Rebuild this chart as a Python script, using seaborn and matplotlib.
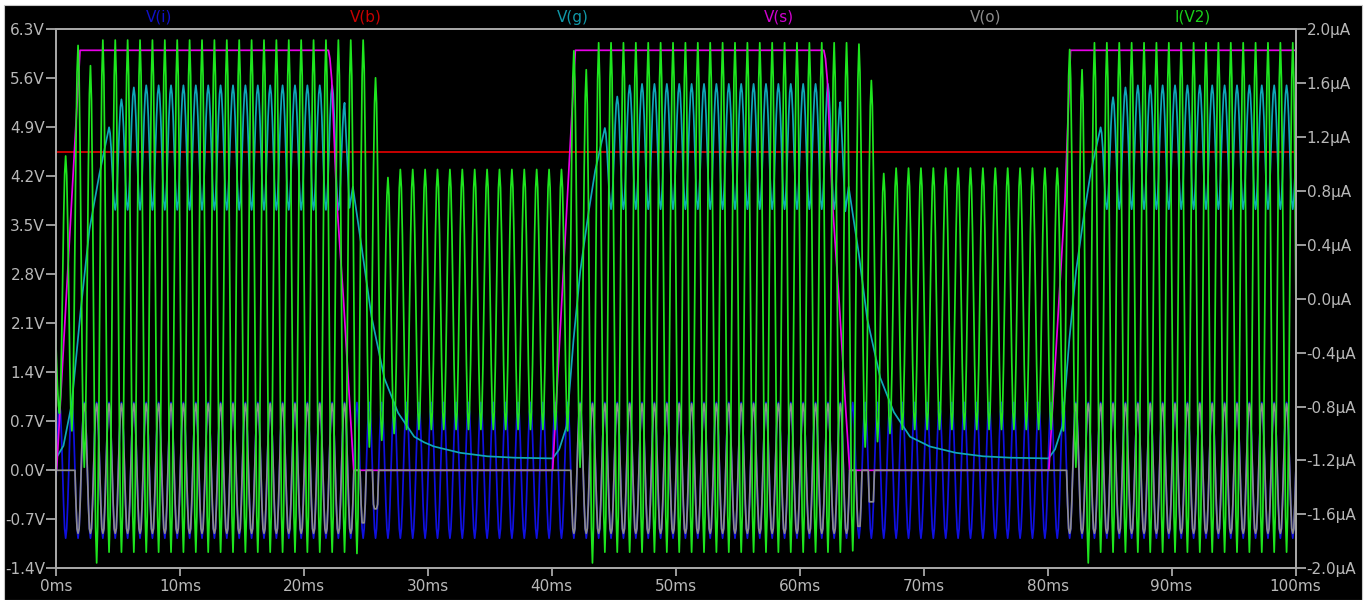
import numpy as np
import matplotlib
matplotlib.use("Agg")
import matplotlib.pyplot as plt
from matplotlib.patches import Rectangle
import seaborn as sns

sns.set_style("ticks")
plt.rcParams['font.family'] = ['DejaVu Sans']

# ---- data (time in ms) ----
trace_names = ['V(i)', 'V(b)', 'V(g)', 'V(s)', 'V(o)', 'I(V2)']
trace_colors = ['#1010e0', '#e00000', '#10a8b8', '#e800e8', '#8c8c8c', '#1ee61e']
label_colors = ['#1010c8', '#c80000', '#1098a8', '#d000d0', '#8c8c8c', '#18d018']

x_ticks = [0, 10, 20, 30, 40, 50, 60, 70, 80, 90, 100]
x_labels = ['0ms', '10ms', '20ms', '30ms', '40ms', '50ms', '60ms', '70ms', '80ms', '90ms', '100ms']
v_ticks = [-1.4, -0.7, 0.0, 0.7, 1.4, 2.1, 2.8, 3.5, 4.2, 4.9, 5.6, 6.3]
v_labels = ['-1.4V', '-0.7V', '0.0V', '0.7V', '1.4V', '2.1V', '2.8V', '3.5V', '4.2V', '4.9V', '5.6V', '6.3V']
i_ticks = [-2.0, -1.6, -1.2, -0.8, -0.4, 0.0, 0.4, 0.8, 1.2, 1.6, 2.0]
i_labels = ['-2.0µA', '-1.6µA', '-1.2µA', '-0.8µA', '-0.4µA', '0.0µA', '0.4µA', '0.8µA', '1.2µA', '1.6µA', '2.0µA']

# extrema of the 1 kHz waveforms sit every half period, first V(i) trough at -0.22 ms
ext_t = np.arange(-0.22, 100.3, 0.5)
# fraction of a swing covered at each sixth of a half period (rounded swing shape)
half_swing = [0.0, 0.07, 0.25, 0.5, 0.75, 0.93]

# V(i): input sine, same level all along
vi_levels = [-0.97, 0.97] * 101

# V(b): flat bias line
vb_t = [0, 100]
vb_v = [4.54, 4.54]

# V(s): switching ramp
vs_t = [0, 0.05, 1.94, 21.98, 22.1, 22.25, 22.65, 23.2, 23.73, 24.02, 40.07, 41.5, 41.9,
        61.95, 62.08, 62.23, 62.63, 63.18, 63.72, 64.03, 80.1, 81.4, 81.85, 100]
vs_v = [0, 0, 6.0, 6.0, 5.88, 5.57, 3.85, 2.42, 0.85, 0, 0, 4.7, 6.0,
        6.0, 5.88, 5.57, 3.85, 2.42, 0.85, 0, 0, 3.85, 6.0, 6.0]

# V(g): rise / oscillation / decay
vg_rise1_t = [0, 0.6, 1.27, 2.0, 2.69, 3.5]
vg_rise1_v = [0.17, 0.35, 0.95, 2.3, 3.43, 4.23]
vg_osc1_peaks = [4.9, 5.3, 5.47] + [5.5] * 16 + [5.25]
vg_osc1_troughs = [3.72] * 19
vg_decay1_t = [23.68, 23.95, 24.77, 25.45, 26.5, 27.6, 28.9, 29.7, 30.5, 32.6, 34.8, 37.0]
vg_decay1_v = [3.75, 4.05, 3.05, 2.2, 1.31, 0.82, 0.48, 0.4, 0.34, 0.25, 0.2, 0.18]
vg_rise2_t = [40.07, 40.6, 41.2, 41.75, 42.3, 42.97, 43.5]
vg_rise2_v = [0.17, 0.3, 0.63, 1.86, 2.85, 3.69, 4.28]
vg_osc2_peaks = [4.89, 5.34, 5.5] + [5.52] * 16 + [5.26]
vg_osc2_troughs = [3.73] * 19
vg_decay2_t = [63.68, 63.95, 64.77, 65.45, 66.5, 67.6, 68.9, 69.7, 70.5, 72.6, 74.8, 77.0]
vg_decay2_v = [3.7, 4.05, 3.09, 2.16, 1.32, 0.83, 0.48, 0.41, 0.34, 0.25, 0.2, 0.18]
vg_rise3_t = [80.07, 80.6, 81.2, 81.75, 82.3, 82.97, 83.5]
vg_rise3_v = [0.17, 0.3, 0.63, 1.86, 2.85, 3.69, 4.28]
vg_osc3_peaks = [4.9, 5.33, 5.47] + [5.5] * 14
vg_osc3_troughs = [3.73] * 16

# V(o): output follows V(i) inside these limits, cycle by cycle (cycles start at k+0.03 ms)
vo_lo = ([0.0] + [-0.9] + [-0.9] * 22 + [-0.75, -0.55] + [0.0] * 15 + [-0.9]
         + [-0.9] * 22 + [-0.8, -0.45] + [0.0] * 15 + [-0.9] + [-0.9] * 18)
vo_hi = ([0.0] + [0.0] + [0.95] * 22 + [0.0, 0.0] + [0.0] * 15 + [0.0]
         + [0.95] * 22 + [0.0, 0.0] + [0.0] * 15 + [0.0] + [0.95] * 18)

# I(V2) in µA: troughs at k+0.28 ms (k=0..100), peaks at k+0.78 ms (k=0..99)
i_troughs = ([-0.85, -0.98, -1.25, -1.96] + [-1.88] * 20 + [-1.89, -1.1, -1.05, -1.0] + [-0.97] * 13
             + [-0.98, -1.25, -1.96] + [-1.88] * 20 + [-1.87, -1.1, -1.06, -1.0] + [-0.97] * 13
             + [-0.98, -1.25, -1.96] + [-1.88] * 17)
i_peaks = ([1.06, 1.88, 1.73] + [1.92] * 21 + [1.92, 1.64, 0.9] + [0.96] * 13
           + [0.96, 1.84, 1.70] + [1.9] * 21 + [1.89, 1.62, 0.93] + [0.97] * 13
           + [0.97, 1.85, 1.70] + [1.9] * 17)
i_start = 0.0


def swing(times, levels):
    ts, vs = [], []
    n = len(half_swing)
    for j in range(len(levels) - 1):
        a, b = levels[j], levels[j + 1]
        for i, f in enumerate(half_swing):
            ts.append(times[j] + (times[j + 1] - times[j]) * i / n)
            vs.append(a + (b - a) * f)
    ts.append(times[-1])
    vs.append(levels[-1])
    return ts, vs


def interleave(a, b):
    out = []
    for j in range(len(a)):
        out.append(a[j])
        if j < len(b):
            out.append(b[j])
    return out


def osc_times(first_peak, n):
    return [first_peak + 0.5 * j for j in range(n)]


# V(i)
vi_t, vi_v = swing(ext_t, vi_levels)

# V(o)
cyc = np.clip(np.floor(np.array(vi_t) - 0.03).astype(int), 0, 99)
vo_v = np.clip(np.array(vi_v), np.array(vo_lo)[cyc], np.array(vo_hi)[cyc])

# V(g)
lv1 = interleave(vg_osc1_peaks, vg_osc1_troughs)
lv2 = interleave(vg_osc2_peaks, vg_osc2_troughs)
lv3 = interleave(vg_osc3_peaks, vg_osc3_troughs)
o1t, o1v = swing(osc_times(4.28, len(lv1)), lv1)
o2t, o2v = swing(osc_times(44.28, len(lv2)), lv2)
o3t, o3v = swing(osc_times(84.28, len(lv3)), lv3)
vg_t = vg_rise1_t + o1t + vg_decay1_t + vg_rise2_t + o2t + vg_decay2_t + vg_rise3_t + o3t
vg_v = vg_rise1_v + o1v + vg_decay1_v + vg_rise2_v + o2v + vg_decay2_v + vg_rise3_v + o3v

# I(V2)
i_levels = [i_start] + interleave(i_troughs, i_peaks)
iv_t, iv_v = swing(ext_t, i_levels)

# ---- figure ----
W, H = 1371, 600
fig = plt.figure(figsize=(W / 100, H / 100), dpi=100, facecolor='white')
fig.patches.append(Rectangle((4 / W, 0), (1362 - 4) / W, 595 / H, transform=fig.transFigure,
                             facecolor='black', edgecolor='#c8c8c8', lw=0.8, zorder=-10))
ax = fig.add_axes([56 / W, 1 - 568.3 / H, (1295.5 - 56) / W, (568.3 - 29.3) / H])
ax.set_facecolor('black')
ax2 = ax.twinx()

lw = 1.25
sns.lineplot(x=vi_t, y=vi_v, ax=ax, color=trace_colors[0], linewidth=lw, estimator=None, sort=False)
sns.lineplot(x=vb_t, y=vb_v, ax=ax, color=trace_colors[1], linewidth=lw, estimator=None, sort=False)
sns.lineplot(x=vg_t, y=vg_v, ax=ax, color=trace_colors[2], linewidth=lw, estimator=None, sort=False)
sns.lineplot(x=vs_t, y=vs_v, ax=ax, color=trace_colors[3], linewidth=lw, estimator=None, sort=False)
sns.lineplot(x=vi_t, y=vo_v, ax=ax, color=trace_colors[4], linewidth=lw, estimator=None, sort=False)
sns.lineplot(x=iv_t, y=iv_v, ax=ax2, color=trace_colors[5], linewidth=lw, estimator=None, sort=False)

ax.set_xlim(0, 100)
ax.set_ylim(-1.4, 6.3)
ax2.set_ylim(-2.0, 2.0)
ax.set_xticks(x_ticks)
ax.set_xticklabels(x_labels)
ax.set_yticks(v_ticks)
ax.set_yticklabels(v_labels)
ax2.set_yticks(i_ticks)
ax2.set_yticklabels(i_labels)
ax.set_xlabel('')
ax.set_ylabel('')
ax2.set_ylabel('')

grey = '#a8a8a8'
for a in (ax, ax2):
    for s in a.spines.values():
        s.set_color(grey)
        s.set_linewidth(1.3)
    a.tick_params(colors=grey, labelcolor='#b8b8b8', labelsize=11, length=7, width=1.3, pad=1)
ax.tick_params(axis='x', length=6, pad=2)

for n, (name, col) in enumerate(zip(trace_names, label_colors)):
    ax.text((n + 0.5) / 6, 1 + 12 / 539, name, transform=ax.transAxes, color=col,
            ha='center', va='center', fontsize=11)

fig.savefig('out.png', dpi=100, facecolor=fig.get_facecolor())
